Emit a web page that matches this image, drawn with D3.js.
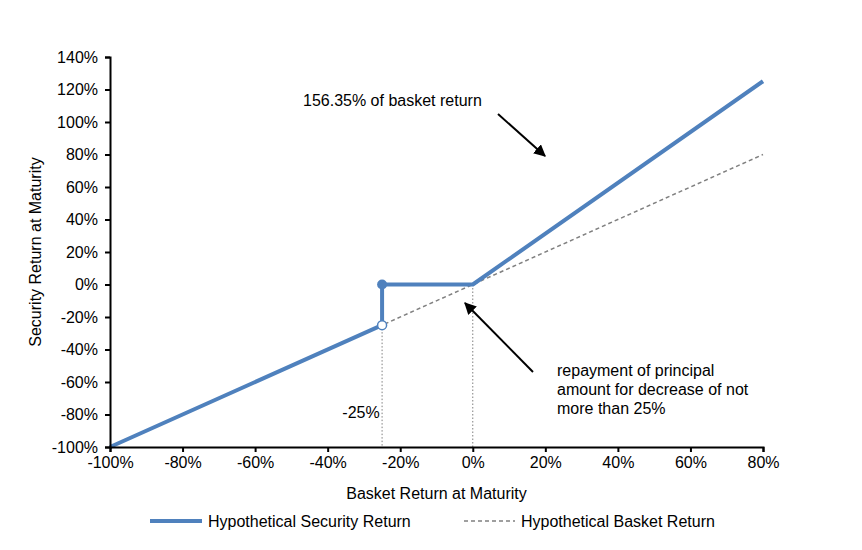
<!DOCTYPE html>
<html>
<head>
<meta charset="utf-8">
<script src="https://cdn.jsdelivr.net/npm/d3@7"></script>
<style>
  body { margin: 0; background: #fff; }
  text { font-family: "Liberation Sans", Arial, sans-serif; fill: #000; }
</style>
</head>
<body>
<div id="chart"></div>
<script>
// basket return (x) and security return (y), in %
const securityX = [-100, -25, -25, 0, 80];
const securityY = [-100, -25, 0, 0, 125.08];
const basketX = [-100, 80];
const basketY = [-100, 80];
const xTicks = [-100, -80, -60, -40, -20, 0, 20, 40, 60, 80];
const yTicks = [-100, -80, -60, -40, -20, 0, 20, 40, 60, 80, 100, 120, 140];
const dropLines = [[-25, -25], [0, 0]];
const seriesNames = ["Hypothetical Security Return", "Hypothetical Basket Return"];

const width = 862, height = 550;
const margin = { top: 57, right: 99, bottom: 103, left: 110 };
const fontSize = "16px";

const svg = d3.select("#chart").append("svg")
  .attr("width", width)
  .attr("height", height);

const x = d3.scaleLinear().domain([-100, 80]).range([margin.left, width - margin.right]);
const y = d3.scaleLinear().domain([-100, 140]).range([height - margin.bottom, margin.top]);

const blue = "#4f81bd";
const fmt = d => d + "%";

// dotted drop lines
svg.selectAll(".drop")
  .data(dropLines)
  .enter().append("line")
  .attr("x1", d => x(d[0])).attr("x2", d => x(d[0]))
  .attr("y1", d => y(d[1])).attr("y2", y(-100))
  .attr("stroke", "#7f7f7f")
  .attr("stroke-width", 1)
  .attr("stroke-dasharray", "1.5,2");

const line = d3.line().x(d => x(d[0])).y(d => y(d[1]));

// basket (dashed)
svg.append("path")
  .datum(basketX.map((v, i) => [v, basketY[i]]))
  .attr("d", line)
  .attr("fill", "none")
  .attr("stroke", "#808080")
  .attr("stroke-width", 1.5)
  .attr("stroke-dasharray", "4,3");

// security (thick blue)
svg.append("path")
  .datum(securityX.map((v, i) => [v, securityY[i]]))
  .attr("d", line)
  .attr("fill", "none")
  .attr("stroke", blue)
  .attr("stroke-width", 4)
  .attr("stroke-linejoin", "round");

// markers at the barrier
svg.append("circle")
  .attr("cx", x(-25)).attr("cy", y(0)).attr("r", 5)
  .attr("fill", blue);
svg.append("circle")
  .attr("cx", x(-25)).attr("cy", y(-25)).attr("r", 4.5)
  .attr("fill", "#fff").attr("stroke", blue).attr("stroke-width", 1.5);

// axes
const xAxis = svg.append("g")
  .attr("transform", `translate(0,${y(-100)})`)
  .call(d3.axisBottom(x).tickValues(xTicks).tickFormat(fmt).tickSize(5).tickPadding(5));
const yAxis = svg.append("g")
  .attr("transform", `translate(${x(-100)},0)`)
  .call(d3.axisLeft(y).tickValues(yTicks).tickFormat(fmt).tickSize(5).tickPadding(7));

[xAxis, yAxis].forEach(a => {
  a.select(".domain").attr("stroke", "#000").attr("stroke-width", 2);
  a.selectAll(".tick line").attr("stroke", "#000").attr("stroke-width", 2);
  a.selectAll(".tick text")
    .style("font-family", "Liberation Sans, Arial, sans-serif")
    .style("font-size", fontSize)
    .attr("fill", "#000");
});

// axis titles
svg.append("text")
  .attr("x", (x(-100) + x(80)) / 2).attr("y", 499)
  .attr("text-anchor", "middle")
  .style("font-size", fontSize)
  .text("Basket Return at Maturity");
svg.append("text")
  .attr("transform", `translate(41,${(y(-100) + y(140)) / 2}) rotate(-90)`)
  .attr("text-anchor", "middle")
  .style("font-size", fontSize)
  .text("Security Return at Maturity");

// annotations
svg.append("defs").append("marker")
  .attr("id", "arrow")
  .attr("viewBox", "0 0 10 10")
  .attr("refX", 9).attr("refY", 5)
  .attr("markerWidth", 6).attr("markerHeight", 6)
  .attr("orient", "auto")
  .append("path").attr("d", "M0,0 L10,5 L0,10 z").attr("fill", "#000");

svg.append("text")
  .attr("x", 303).attr("y", 106)
  .style("font-size", fontSize)
  .text("156.35% of basket return");
svg.append("line")
  .attr("x1", 498).attr("y1", 114).attr("x2", 545).attr("y2", 156)
  .attr("stroke", "#000").attr("stroke-width", 2)
  .attr("marker-end", "url(#arrow)");

const note = ["repayment of principal", "amount for decrease of not", "more than 25%"];
svg.append("text")
  .attr("x", 557).attr("y", 376)
  .style("font-size", fontSize)
  .selectAll("tspan")
  .data(note)
  .enter().append("tspan")
  .attr("x", 557)
  .attr("dy", (d, i) => i === 0 ? 0 : 19)
  .text(d => d);
svg.append("line")
  .attr("x1", 533).attr("y1", 372).attr("x2", 465).attr("y2", 303)
  .attr("stroke", "#000").attr("stroke-width", 2)
  .attr("marker-end", "url(#arrow)");

svg.append("text")
  .attr("x", 361).attr("y", 418)
  .attr("text-anchor", "middle")
  .style("font-size", fontSize)
  .text("-25%");

// legend
const legend = svg.append("g").attr("transform", "translate(0,521)");
legend.append("line")
  .attr("x1", 150).attr("x2", 202).attr("y1", 0).attr("y2", 0)
  .attr("stroke", blue).attr("stroke-width", 4);
legend.append("text")
  .attr("x", 208).attr("y", 6)
  .style("font-size", fontSize)
  .text(seriesNames[0]);
legend.append("line")
  .attr("x1", 464).attr("x2", 515).attr("y1", 0).attr("y2", 0)
  .attr("stroke", "#808080").attr("stroke-width", 1.5)
  .attr("stroke-dasharray", "4,3");
legend.append("text")
  .attr("x", 521).attr("y", 6)
  .style("font-size", fontSize)
  .text(seriesNames[1]);
</script>
</body>
</html>
